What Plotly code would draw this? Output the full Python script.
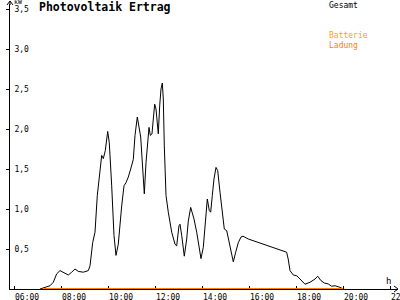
import plotly.graph_objects as go

# Gesamt (total) PV yield, hours of day and kW
gesamt_h = [7.106, 7.532, 7.672, 7.817, 7.957, 8.098, 8.311, 8.455, 8.596, 8.736, 8.949, 9.162,
            9.234, 9.349, 9.447, 9.545, 9.66, 9.732, 9.80, 9.885, 9.987, 10.055, 10.157, 10.255,
            10.34, 10.438, 10.583, 10.681, 10.766, 10.864, 10.966, 11.077, 11.149, 11.247, 11.391,
            11.46, 11.545, 11.617, 11.689, 11.745, 11.80, 11.872, 11.928, 11.987, 12.043, 12.098,
            12.14, 12.20, 12.255, 12.311, 12.353, 12.396, 12.468, 12.566, 12.711, 12.851, 12.923,
            13.02, 13.064, 13.136, 13.247, 13.349, 13.417, 13.519, 13.66, 13.774, 13.872, 13.957,
            14.055, 14.157, 14.226, 14.311, 14.37, 14.438, 14.51, 14.596, 14.668, 14.766, 14.864,
            14.949, 15.051, 15.162, 15.264, 15.332, 15.434, 15.545, 15.66, 15.745, 15.97, 17.60,
            17.668, 17.745, 17.885, 18.03, 18.17, 18.383, 18.596, 18.81, 18.923, 19.064, 19.204,
            19.374, 19.519, 19.66, 19.87, 20.013]
gesamt_kw = [0.0, 0.041, 0.084, 0.19, 0.23, 0.21, 0.175, 0.21, 0.25, 0.22, 0.21, 0.23,
             0.29, 0.58, 0.71, 1.17, 1.50, 1.67, 1.63, 1.73, 1.97, 1.83, 1.29, 0.67,
             0.42, 0.56, 1.04, 1.29, 1.33, 1.40, 1.50, 1.62, 1.92, 2.15, 1.90,
             1.50, 1.19, 1.58, 1.85, 2.02, 1.92, 1.94, 2.125, 2.31, 2.25, 2.04,
             1.94, 2.29, 2.50, 2.575, 2.375, 1.79, 1.17, 0.96, 0.71, 0.56, 0.54,
             0.79, 0.81, 0.67, 0.41, 0.625, 0.85, 1.02, 0.875, 0.71, 0.50, 0.38,
             0.52, 0.92, 1.125, 0.98, 0.96, 1.17, 1.375, 1.52, 1.48, 1.21, 0.92,
             0.75, 0.73, 0.58, 0.42, 0.34, 0.46, 0.58, 0.65, 0.66, 0.625, 0.46,
             0.375, 0.23, 0.175, 0.166, 0.125, 0.06, 0.084, 0.125, 0.16, 0.104, 0.075,
             0.0625, 0.034, 0.041, 0.021, 0.0]

# Batterie Ladung (battery charging)
ladung_h = [7.23, 20.0]
ladung_kw = [0.0, 0.0]

x_tickvals = [6, 8, 10, 12, 14, 16, 18, 20, 22]
x_ticktext = ["06:00", "08:00", "10:00", "12:00", "14:00", "16:00", "18:00", "20:00", "22:00"]
y_tickvals = [0.5, 1.0, 1.5, 2.0, 2.5, 3.0, 3.5]
y_ticktext = ["0,5", "1,0", "1,5", "2,0", "2,5", "3,0", "3,5"]

X_RANGE = [5.83, 22.34]
Y_RANGE = [0, 3.5625]

FONT = "DejaVu Sans Mono"
BOTTOM = 289  # pixel row of the x axis

fig = go.Figure()
fig.add_trace(go.Scatter(x=gesamt_h, y=gesamt_kw, mode="lines",
                         line=dict(color="black", width=1), name="Gesamt",
                         hoverinfo="skip"))
fig.add_trace(go.Scatter(x=ladung_h, y=ladung_kw, mode="lines",
                         line=dict(color="#FF8000", width=2), name="Ladung",
                         hoverinfo="skip", cliponaxis=False))

fig.update_layout(
    width=400, height=300,
    margin=dict(l=10, r=2, t=BOTTOM - 285, b=300 - BOTTOM),
    paper_bgcolor="white", plot_bgcolor="white",
    showlegend=False,
    font=dict(family=FONT, size=8, color="black"),
    xaxis=dict(range=X_RANGE, showgrid=False, zeroline=False, automargin=False,
               showline=True, linecolor="black", linewidth=1, layer="below traces",
               tickvals=x_tickvals, ticktext=x_ticktext,
               ticks="inside", ticklen=3, tickcolor="black",
               ticklabelposition="outside right", ticklabeloverflow="allow",
               tickfont=dict(family=FONT, size=8, color="black")),
    yaxis=dict(range=Y_RANGE, showgrid=False, zeroline=False, automargin=False,
               showline=True, linecolor="black", linewidth=1,
               tickvals=y_tickvals, ticktext=y_ticktext,
               ticks="outside", ticklen=3, tickcolor="black",
               ticklabelposition="inside", ticklabeloverflow="allow",
               ticklabelstandoff=3,
               tickfont=dict(family=FONT, size=8, color="black")),
)

def px(xp):
    return (xp - 10) / 388.0

def py(yp):
    return (BOTTOM - yp) / 285.0

# axis extensions and arrowheads
fig.add_shape(type="line", xref="paper", yref="paper", x0=px(10), y0=py(5), x1=px(10), y1=py(1),
              line=dict(color="black", width=1))
fig.add_shape(type="path", xref="paper", yref="paper",
              path=f"M {px(7)} {py(5)} L {px(10)} {py(1)} L {px(13)} {py(5)}",
              line=dict(color="black", width=1))
fig.add_shape(type="path", xref="paper", yref="paper",
              path=f"M {px(394)} {py(BOTTOM - 3)} L {px(398)} {py(BOTTOM)} L {px(394)} {py(BOTTOM + 3)}",
              line=dict(color="black", width=1))

def label(text, xp, yp, size=8, color="black", bold=False):
    t = f"<b>{text}</b>" if bold else text
    fig.add_annotation(text=t, xref="paper", yref="paper", x=px(xp), y=py(yp),
                       xanchor="left", yanchor="middle", showarrow=False,
                       borderpad=0,
                       font=dict(family=FONT, size=size, color=color))

label("Photovoltaik Ertrag", 38, 7, size=11.5, bold=True)
label("kW", 13, 2, size=6.5)
label("Gesamt", 328, 5)
label("Batterie", 328, 35.5, color="#FFA500")
label("Ladung", 328, 45, color="#FF8000")
label("h", 385, 281, size=9)

fig.write_html("out.html")
